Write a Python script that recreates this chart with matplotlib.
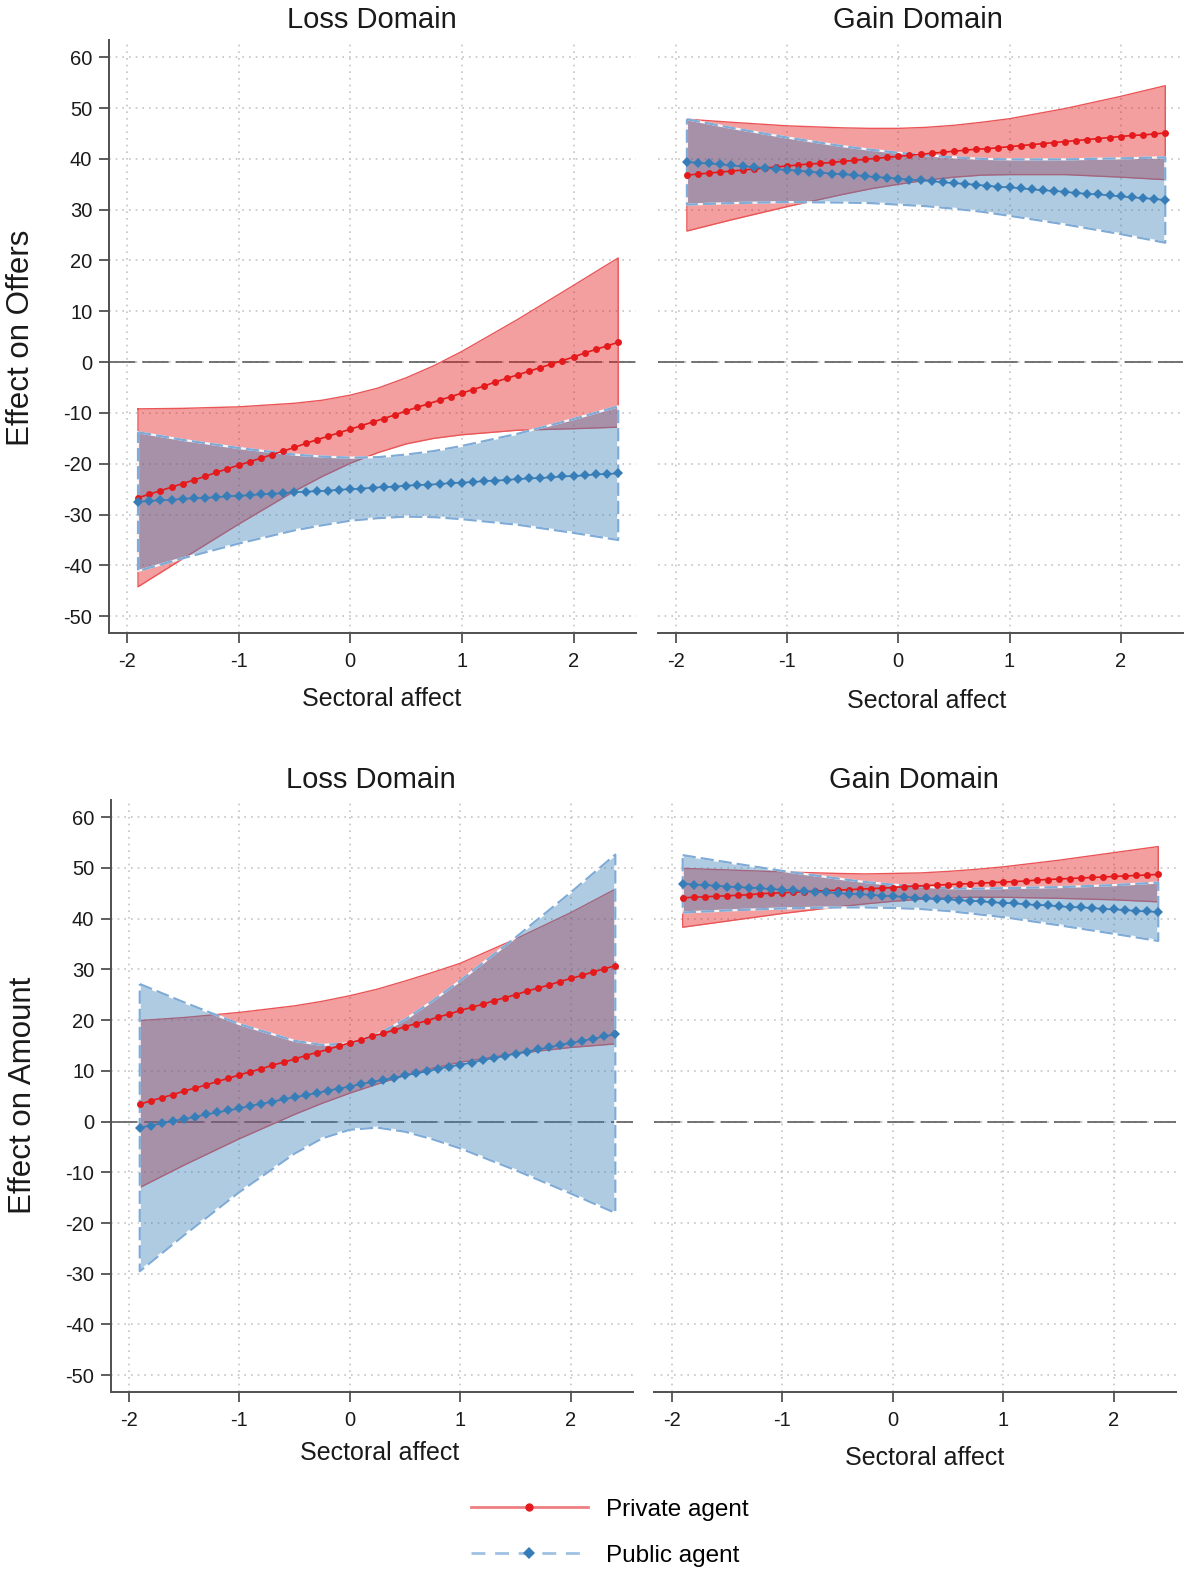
import matplotlib
matplotlib.use("Agg")
import matplotlib.pyplot as plt
from matplotlib.lines import Line2D

plt.rcParams['font.family'] = ['Liberation Sans', 'DejaVu Sans']
plt.rcParams['lines.scale_dashes'] = False
plt.rcParams['axes.unicode_minus'] = False

# ---------------- data ----------------
x_pts = [-1.9, -1.8, -1.7, -1.6, -1.5, -1.4, -1.3, -1.2, -1.1, -1.0, -0.9, -0.8, -0.7, -0.6,
         -0.5, -0.4, -0.3, -0.2, -0.1, 0.0, 0.1, 0.2, 0.3, 0.4, 0.5, 0.6, 0.7, 0.8, 0.9, 1.0,
         1.1, 1.2, 1.3, 1.4, 1.5, 1.6, 1.7, 1.8, 1.9, 2.0, 2.1, 2.2, 2.3, 2.4]
x_ci = [-1.9, -1.5, -1.0, -0.5, -0.25, 0.0, 0.25, 0.5, 0.75, 1.0, 1.5, 2.0, 2.4]

# Offers, Loss domain
offers_loss_private = [-26.7, -26.0, -25.3, -24.6, -23.9, -23.2, -22.5, -21.7, -21.0, -20.3, -19.6, -18.9,
                       -18.2, -17.5, -16.8, -16.0, -15.3, -14.6, -13.9, -13.2, -12.5, -11.8, -11.1, -10.4,
                       -9.6, -8.9, -8.2, -7.5, -6.8, -6.1, -5.4, -4.7, -3.9, -3.2, -2.5, -1.8, -1.1, -0.4,
                       0.3, 1.0, 1.8, 2.5, 3.2, 3.9]
offers_loss_private_lo = [-44.2, -38.7, -31.9, -25.4, -22.5, -19.9, -17.8, -16.1, -15.0, -14.3, -13.4, -13.1, -12.8]
offers_loss_private_hi = [-9.2, -9.1, -8.8, -8.1, -7.5, -6.5, -5.1, -3.1, -0.7, 2.1, 8.4, 15.1, 20.5]
offers_loss_public = [-27.5, -27.3, -27.2, -27.1, -26.9, -26.8, -26.7, -26.6, -26.4, -26.3, -26.2, -26.0,
                      -25.9, -25.8, -25.6, -25.5, -25.4, -25.3, -25.1, -25.0, -24.9, -24.7, -24.6, -24.5,
                      -24.3, -24.2, -24.1, -24.0, -23.8, -23.7, -23.6, -23.4, -23.3, -23.2, -23.0, -22.9,
                      -22.8, -22.7, -22.5, -22.4, -22.3, -22.1, -22.0, -21.9]
offers_loss_public_lo = [-41.1, -38.6, -35.7, -33.1, -32.1, -31.2, -30.7, -30.4, -30.5, -30.9, -32.0, -33.6, -35.0]
offers_loss_public_hi = [-13.8, -15.3, -16.9, -18.2, -18.6, -18.8, -18.7, -18.2, -17.5, -16.5, -14.1, -11.2, -8.7]

# Offers, Gain domain
offers_gain_private = [36.8, 37.0, 37.2, 37.4, 37.6, 37.8, 38.0, 38.2, 38.4, 38.6, 38.8, 39.0, 39.1, 39.3,
                       39.5, 39.7, 39.9, 40.1, 40.3, 40.5, 40.7, 40.9, 41.1, 41.3, 41.5, 41.7, 41.9, 42.0,
                       42.2, 42.4, 42.6, 42.8, 43.0, 43.2, 43.4, 43.6, 43.8, 44.0, 44.2, 44.4, 44.6, 44.7,
                       44.9, 45.1]
offers_gain_private_lo = [25.8, 28.0, 30.6, 33.0, 34.1, 35.0, 35.8, 36.4, 36.8, 36.9, 36.9, 36.4, 35.9]
offers_gain_private_hi = [47.8, 47.2, 46.5, 46.1, 46.0, 46.0, 46.2, 46.6, 47.2, 47.9, 49.9, 52.3, 54.4]
offers_gain_public = [39.4, 39.2, 39.1, 38.9, 38.7, 38.5, 38.4, 38.2, 38.0, 37.8, 37.7, 37.5, 37.3, 37.1,
                      37.0, 36.8, 36.6, 36.4, 36.3, 36.1, 35.9, 35.8, 35.6, 35.4, 35.2, 35.1, 34.9, 34.7,
                      34.5, 34.4, 34.2, 34.0, 33.8, 33.7, 33.5, 33.3, 33.1, 33.0, 32.8, 32.6, 32.4, 32.3,
                      32.1, 31.9]
offers_gain_public_lo = [31.0, 31.3, 31.5, 31.4, 31.3, 31.0, 30.7, 30.2, 29.6, 28.8, 27.1, 25.2, 23.5]
offers_gain_public_hi = [47.8, 46.1, 44.2, 42.5, 41.8, 41.2, 40.7, 40.3, 40.0, 39.9, 39.9, 40.1, 40.3]

# Amount, Loss domain
amount_loss_private = [3.4, 4.1, 4.7, 5.3, 6.0, 6.6, 7.2, 7.9, 8.5, 9.2, 9.8, 10.4, 11.1, 11.7, 12.3, 13.0,
                       13.6, 14.2, 14.9, 15.5, 16.1, 16.8, 17.4, 18.0, 18.7, 19.3, 19.9, 20.6, 21.2, 21.9,
                       22.5, 23.1, 23.8, 24.4, 25.0, 25.7, 26.3, 26.9, 27.6, 28.2, 28.8, 29.5, 30.1, 30.7]
amount_loss_private_lo = [-13.0, -8.6, -3.4, 1.4, 3.6, 5.6, 7.4, 9.1, 10.5, 11.7, 13.4, 14.6, 15.3]
amount_loss_private_hi = [19.9, 20.5, 21.5, 22.8, 23.7, 24.8, 26.1, 27.7, 29.4, 31.2, 36.0, 41.2, 45.8]
amount_loss_public = [-1.2, -0.8, -0.3, 0.1, 0.5, 0.9, 1.4, 1.8, 2.2, 2.6, 3.1, 3.5, 3.9, 4.4, 4.8, 5.2,
                      5.6, 6.1, 6.5, 6.9, 7.4, 7.8, 8.2, 8.6, 9.1, 9.5, 9.9, 10.4, 10.8, 11.2, 11.6, 12.1,
                      12.5, 12.9, 13.4, 13.8, 14.2, 14.6, 15.1, 15.5, 15.9, 16.3, 16.8, 17.2]
amount_loss_public_lo = [-29.5, -22.4, -13.9, -6.3, -3.3, -1.6, -1.2, -2.0, -3.5, -5.3, -9.6, -14.2, -18.0]
amount_loss_public_hi = [27.1, 23.5, 19.2, 15.9, 15.1, 15.4, 17.2, 20.1, 23.8, 27.8, 36.3, 45.2, 52.6]

# Amount, Gain domain
amount_gain_private = [44.1, 44.2, 44.3, 44.4, 44.5, 44.6, 44.7, 44.9, 45.0, 45.1, 45.2, 45.3, 45.4, 45.5,
                       45.6, 45.7, 45.8, 45.9, 46.0, 46.1, 46.3, 46.4, 46.5, 46.6, 46.7, 46.8, 46.9, 47.0,
                       47.1, 47.2, 47.3, 47.4, 47.6, 47.7, 47.8, 47.9, 48.0, 48.1, 48.2, 48.3, 48.4, 48.5,
                       48.6, 48.7]
amount_gain_private_lo = [38.3, 39.5, 41.0, 42.3, 42.9, 43.4, 43.8, 44.1, 44.2, 44.2, 44.0, 43.7, 43.3]
amount_gain_private_hi = [49.9, 49.6, 49.2, 48.9, 48.8, 48.9, 49.0, 49.3, 49.7, 50.2, 51.5, 53.0, 54.2]
amount_gain_public = [46.9, 46.7, 46.6, 46.5, 46.3, 46.2, 46.1, 46.0, 45.8, 45.7, 45.6, 45.4, 45.3, 45.2,
                      45.0, 44.9, 44.8, 44.7, 44.5, 44.4, 44.3, 44.1, 44.0, 43.9, 43.8, 43.6, 43.5, 43.4,
                      43.2, 43.1, 43.0, 42.8, 42.7, 42.6, 42.4, 42.3, 42.2, 42.1, 41.9, 41.8, 41.7, 41.5,
                      41.4, 41.3]
amount_gain_public_lo = [41.2, 41.6, 42.0, 42.2, 42.2, 42.1, 41.9, 41.5, 40.9, 40.3, 38.7, 37.0, 35.6]
amount_gain_public_hi = [52.5, 51.1, 49.4, 47.9, 47.2, 46.7, 46.3, 46.0, 45.9, 46.0, 46.2, 46.6, 47.1]

y_ticks = [-50, -40, -30, -20, -10, 0, 10, 20, 30, 40, 50, 60]
x_ticks = [-2, -1, 0, 1, 2]
titles = ["Loss Domain", "Gain Domain"]
xlabel = "Sectoral affect"
ylabels = ["Effect on Offers", "Effect on Amount"]
legend_labels = ["Private agent", "Public agent"]

# ---------------- style ----------------
RED = '#e41a1c'
BLUE = '#377eb8'
RED_EDGE = '#ea5557'
BLUE_EDGE = '#7fabd6'
SPINE = '#505050'

fig = plt.figure(figsize=(11.86, 15.73), dpi=100)

positions = {
    (0, 0): [0.0919, 0.5976, 0.4444, 0.3770],
    (0, 1): [0.5548, 0.5976, 0.4427, 0.3770],
    (1, 0): [0.0936, 0.1151, 0.4401, 0.3764],
    (1, 1): [0.5514, 0.1151, 0.4401, 0.3764],
}

panels = {
    (0, 0): (offers_loss_private, offers_loss_private_lo, offers_loss_private_hi,
             offers_loss_public, offers_loss_public_lo, offers_loss_public_hi),
    (0, 1): (offers_gain_private, offers_gain_private_lo, offers_gain_private_hi,
             offers_gain_public, offers_gain_public_lo, offers_gain_public_hi),
    (1, 0): (amount_loss_private, amount_loss_private_lo, amount_loss_private_hi,
             amount_loss_public, amount_loss_public_lo, amount_loss_public_hi),
    (1, 1): (amount_gain_private, amount_gain_private_lo, amount_gain_private_hi,
             amount_gain_public, amount_gain_public_lo, amount_gain_public_hi),
}


def outline(lo, hi):
    xs = list(x_ci) + list(x_ci[::-1]) + [x_ci[0]]
    ys = list(hi) + list(lo[::-1]) + [hi[0]]
    return xs, ys


for (r, c), pos in positions.items():
    ax = fig.add_axes(pos)
    pm, plo, phi, bm, blo, bhi = panels[(r, c)]
    ax.set_xlim(-2.16, 2.56)
    ax.set_ylim(-53.3, 63.4)
    ax.set_xticks(x_ticks)
    ax.set_yticks(y_ticks)
    ax.set_axisbelow(True)
    ax.grid(True, color='#c4c4c4', linewidth=1.2, dashes=(1.2, 3.6))
    ax.axhline(0, color='#5c5c5c', linewidth=1.2, dashes=(19, 5), zorder=1)

    # private band
    ax.fill_between(x_ci, plo, phi, color=RED, alpha=0.42, linewidth=0, zorder=2)
    xs, ys = outline(plo, phi)
    ax.plot(xs, ys, color=RED_EDGE, linewidth=1.0, zorder=2.1)
    # public band
    ax.fill_between(x_ci, blo, bhi, color=BLUE, alpha=0.40, linewidth=0, zorder=3)
    xs, ys = outline(blo, bhi)
    ax.plot(xs, ys, color='white', linewidth=1.6, alpha=0.9, zorder=3.1)
    ax.plot(xs, ys, color=BLUE_EDGE, linewidth=1.6, dashes=(9.5, 3.6), zorder=3.2)

    # estimates
    ax.plot(x_pts, pm, color=RED, linewidth=1.2, marker='o', markersize=5,
            markeredgewidth=0, zorder=4)
    ax.plot(x_pts, bm, color=BLUE, linewidth=1.2, marker='D', markersize=5.5,
            markeredgewidth=0, zorder=4.1)

    for s in ['top', 'right']:
        ax.spines[s].set_visible(False)
    ax.spines['bottom'].set_color(SPINE)
    ax.spines['bottom'].set_linewidth(1.4)
    ax.spines['left'].set_color(SPINE)
    ax.spines['left'].set_linewidth(1.4)
    ax.tick_params(axis='x', length=7.5, width=1.3, color=SPINE, labelsize=14.5, pad=6.5,
                   labelcolor='#1a1a1a')
    if c == 0:
        ax.tick_params(axis='y', length=7, width=1.3, color=SPINE, labelsize=14.5, pad=5,
                       labelcolor='#1a1a1a')
    else:
        ax.spines['left'].set_visible(False)
        ax.tick_params(axis='y', left=False, labelleft=False)

# titles, labels
title_pos = [((0.3137, 0.9875), (0.7740, 0.9875)), ((0.3128, 0.5043), (0.7707, 0.5043))]
xlab_pos = [((0.3221, 0.5558), (0.7816, 0.5545)), ((0.3204, 0.0760), (0.7799, 0.0728))]
ylab_pos = [(0.0178, 0.7851), (0.0190, 0.3039)]
for r in range(2):
    for c in range(2):
        fig.text(*title_pos[r][c], titles[c], ha='center', va='center', fontsize=21, color='#1a1a1a')
        fig.text(*xlab_pos[r][c], xlabel, ha='center', va='center', fontsize=18, color='#1a1a1a')
    fig.text(*ylab_pos[r], ylabels[r], ha='center', va='center', rotation=90, fontsize=22.5,
             color='#1a1a1a')

handles = [
    Line2D([], [], color='#ef7f80', linewidth=2, marker='o', markersize=6,
           markerfacecolor=RED, markeredgewidth=0),
    Line2D([], [], color='#9fc2e3', linewidth=2, dashes=(10, 7), marker='D', markersize=6,
           markerfacecolor=BLUE, markeredgewidth=0),
]
fig.legend(handles, legend_labels, loc='center', bbox_to_anchor=(0.514, 0.0255), frameon=False,
           fontsize=17.5, handlelength=4.8, handletextpad=0.75, labelspacing=0.98, numpoints=1)

fig.savefig('out.png', dpi=100)
